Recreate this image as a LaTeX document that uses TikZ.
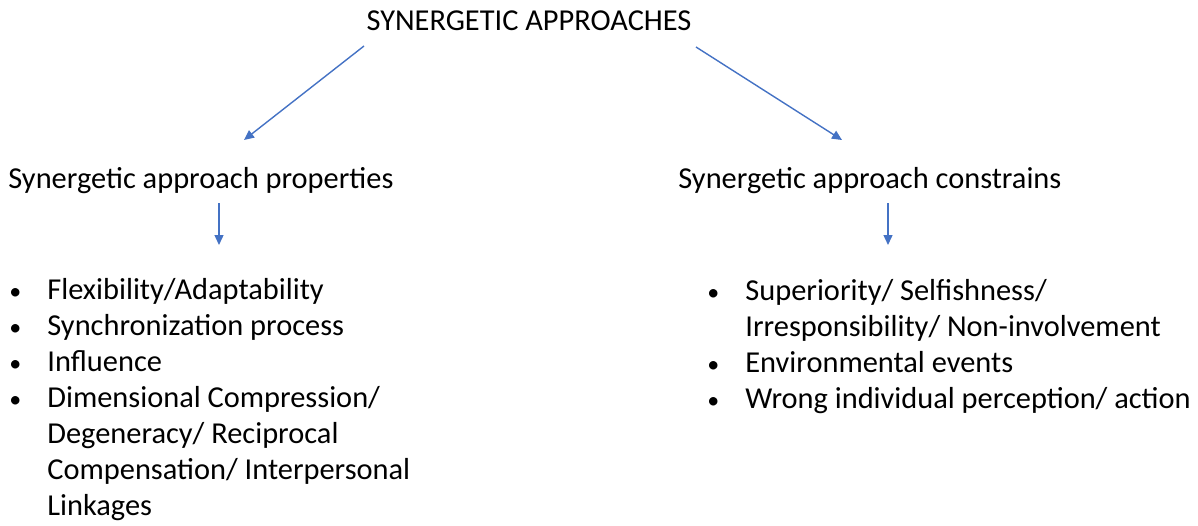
\documentclass[tikz,border=0pt]{standalone}
\usepackage{fontspec}
\setmainfont{Carlito}
\usetikzlibrary{arrows.meta}
\definecolor{arrowblue}{HTML}{4472C4}
\tikzset{
  txt/.style={anchor=base west,inner sep=0pt,font=\fontsize{15.2}{18}\selectfont},
  dot/.style={anchor=base west,inner sep=0pt,font=\fontsize{12}{18}\selectfont},
  link/.style={draw=arrowblue,line width=0.7pt,-{Triangle[length=5pt,width=4.5pt]}}
}
\begin{document}
\begin{tikzpicture}[x=0.5pt,y=-0.5pt]
\useasboundingbox (0,0) rectangle (1198,525);
\node[txt,anchor=base] (title) at (529,30) {SYNERGETIC APPROACHES};
\node[txt] (props) at (8,188) {Synergetic approach properties};
\node[txt] (cons) at (678,188) {Synergetic approach constrains};
% left list
\node[dot] (pb1) at (9,299) {•};
\node[dot] (pb2) at (9,335) {•};
\node[dot] (pb3) at (9,371) {•};
\node[dot] (pb4) at (9,407) {•};
\node[txt] (p1) at (47,299) {Flexibility/Adaptability};
\node[txt] (p2) at (47,335) {Synchronization process};
\node[txt] (p3) at (47,371) {Influence};
\node[txt] (p4a) at (47,407) {Dimensional Compression/};
\node[txt] (p4b) at (47,443) {Degeneracy/ Reciprocal};
\node[txt] (p4c) at (47,479) {Compensation/ Interpersonal};
\node[txt] (p4d) at (47,515) {Linkages};
% right list
\node[dot] (cb1) at (707,300) {•};
\node[dot] (cb2) at (707,372) {•};
\node[dot] (cb3) at (707,408) {•};
\node[txt] (c1a) at (745,300) {Superiority/ Selfishness/};
\node[txt] (c1b) at (745,336) {Irresponsibility/ Non-involvement};
\node[txt] (c2) at (745,372) {Environmental events};
\node[txt] (c3) at (745,408) {Wrong individual perception/ action};
% arrows
\coordinate (t1) at (364,46);
\coordinate (t2) at (696,47);
\coordinate (h1) at (244,140);
\coordinate (h2) at (842,140);
\coordinate (d1) at (219,203);
\coordinate (d2) at (888,203);
\coordinate (e1) at (219,245);
\coordinate (e2) at (888,245);
\draw[link] (t1) -- (h1);
\draw[link] (t2) -- (h2);
\draw[link] (d1) -- (e1);
\draw[link] (d2) -- (e2);
\end{tikzpicture}
\end{document}
